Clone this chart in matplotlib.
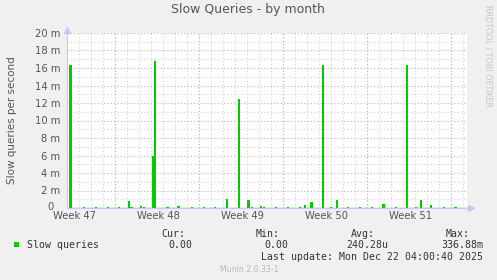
import numpy as np
import matplotlib
matplotlib.use("Agg")
from matplotlib import pyplot as plt
from matplotlib.ticker import FuncFormatter, MultipleLocator

# data: sample position in days from left edge of graph, value in queries/s
spike_days = [0.29, 1.42, 2.42, 3.42, 4.33, 5.17, 5.38, 6.17, 6.42, 7.17, 7.33,
              8.38, 9.29, 10.42, 11.42, 12.33, 13.33, 14.33, 15.12, 15.42, 16.17,
              16.42, 17.42, 18.42, 19.42, 19.83, 20.38, 21.33, 22.0, 22.5, 23.42,
              24.42, 25.42, 26.38, 27.42, 28.33, 29.08, 29.5, 30.33, 31.42, 32.38]
spike_vals = [0.0163, 0.0001, 0.0001, 0.0001, 0.0001, 0.00083, 0.0001, 0.00025,
              0.00015, 0.0059, 0.0168, 0.0001, 0.0002, 0.0001, 0.0001, 0.0001,
              0.00106, 0.0125, 0.00087, 0.0001, 0.00025, 0.0001, 0.0001, 0.0001,
              0.0001, 0.0003, 0.00065, 0.0163, 0.0001, 0.00087, 0.0001, 0.0001,
              0.0001, 0.0005, 0.0001, 0.0163, 0.00015, 0.00087, 0.0003, 0.0001, 0.0001]
week_labels = ["Week 47", "Week 48", "Week 49", "Week 50", "Week 51"]
week_label_days = [0.6, 7.6, 14.6, 21.6, 28.6]
week_start_days = [4, 11, 18, 25, 32]
span_days = 400 / 12.0

legend_heads = ["Cur:", "Min:", "Avg:", "Max:"]
legend_vals = ["0.00", "0.00", "240.28u", "336.88m"]

W, H = 497, 280
BG = "#f0f0f0"
GREEN = "#00cc00"
GRID = "#d2d2d2"
MGRID = "#eaa4a4"
AXC = "#c8c8f4"

def px(x, y):
    return x / W, 1 - y / H

fig = plt.figure(figsize=(W / 100, H / 100), dpi=100, facecolor=BG)
ax = fig.add_axes([67 / W, 1 - 208 / H, 400 / W, 175 / H])
ax.set_facecolor("white")

ax.set_xlim(0, span_days)
ax.set_ylim(0, 0.020)

# grid
ax.yaxis.set_major_locator(MultipleLocator(0.002))
ax.yaxis.set_minor_locator(MultipleLocator(0.001))
ax.xaxis.set_minor_locator(MultipleLocator(1))
ax.grid(True, which="minor", axis="both", color=GRID, linestyle=(0, (1, 2)), linewidth=0.8)
ax.grid(True, which="major", axis="y", color=MGRID, linestyle=(0, (1, 2)), linewidth=0.8)
ax.vlines(week_start_days, 0, 0.020, colors=MGRID, linestyles=(0, (1, 2)), linewidth=0.8, zorder=1)
ax.set_axisbelow(True)

ax.set_xticks(week_label_days)
ax.set_xticklabels(week_labels)
# rrdtool leaves the unit column blank for 0, so draw it separately further left
ax.yaxis.set_major_formatter(FuncFormatter(lambda v, p: "" if abs(v) < 1e-9 else "%d m" % round(v * 1000)))
ax.tick_params(which="both", length=0, colors="#555555", labelsize=7.2)
ax.tick_params(axis="y", pad=5)
ax.tick_params(axis="x", pad=2.5)
fig.text(*px(53.5, 207.5), "0", ha="right", va="center", fontsize=7.2, color="#555555")

# series
ax.bar(spike_days, spike_vals, width=0.2, color=GREEN, linewidth=0, zorder=3)
ax.axhline(0, color="#55d055", linewidth=1.0, zorder=4)

for s in ["top", "right"]:
    ax.spines[s].set_visible(False)
ax.spines["left"].set_color(AXC)
ax.spines["bottom"].set_color(AXC)
ax.spines["left"].set_linewidth(0.8)
ax.spines["bottom"].set_linewidth(0.8)
ax.plot([0], [1.02], marker="^", color=AXC, markersize=4, transform=ax.transAxes, clip_on=False)
ax.plot([1.01], [0], marker=">", color=AXC, markersize=4, transform=ax.transAxes, clip_on=False)

# titles
fig.text(*px(248, 10), "Slow Queries - by month", ha="center", va="center", fontsize=9, color="#555555")
fig.text(*px(12, 120), "Slow queries per second", ha="center", va="center", rotation=90,
         fontsize=7.5, color="#555555")
fig.text(*px(488, 56.5), "RRDTOOL / TOBI OETIKER", ha="center", va="center", rotation=270,
         fontsize=5.8, color="#c4c4c4")

# legend
mono = "DejaVu Sans Mono"
fig.patches.append(plt.Rectangle(px(14, 247), 5.3 / W, 5.3 / H, transform=fig.transFigure,
                                 facecolor=GREEN, edgecolor="none"))
fig.text(*px(27, 245.5), "Slow queries", ha="left", va="center", family=mono, fontsize=7.1, color="#333333")
for i, (hd, v) in enumerate(zip(legend_heads, legend_vals)):
    fig.text(*px(185 + 95 * i, 234), hd, ha="right", va="center", family=mono, fontsize=7.1, color="#333333")
    vx = [192.7, 288.3, 388.3, 483.3][i]
    fig.text(*px(vx, 245.5), v, ha="right", va="center", family=mono, fontsize=7.1, color="#333333")
fig.text(*px(483.3, 257.3), "Last update: Mon Dec 22 04:00:40 2025", ha="right", va="center",
         family=mono, fontsize=7.1, color="#333333")
fig.text(*px(249, 269.3), "Munin 2.0.33-1", ha="center", va="center", fontsize=5.6, color="#b8b8b8")

fig.savefig("out.png", dpi=100, facecolor=BG)
